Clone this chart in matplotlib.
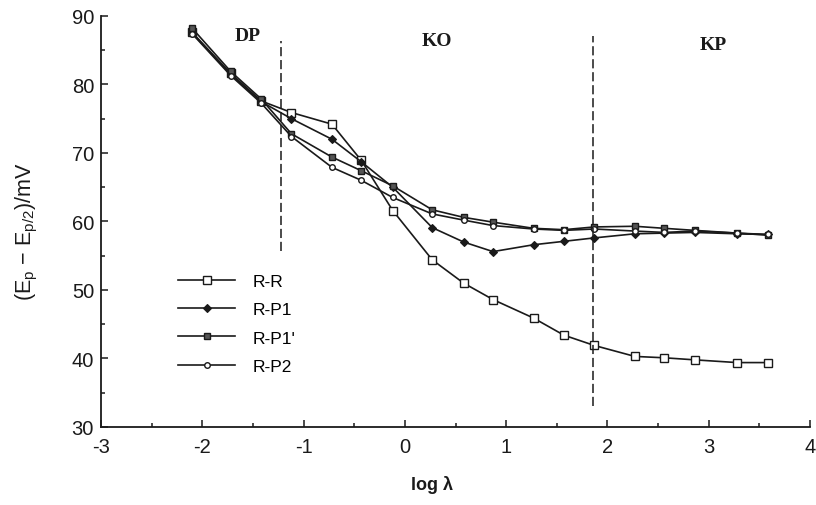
import numpy as np
import matplotlib.pyplot as plt
from matplotlib.ticker import MultipleLocator

plt.rcParams['font.family'] = ['Liberation Sans', 'DejaVu Sans']
plt.rcParams['mathtext.fontset'] = 'custom'
plt.rcParams['mathtext.rm'] = 'Liberation Sans'
plt.rcParams['mathtext.it'] = 'Liberation Sans:italic'
plt.rcParams['axes.unicode_minus'] = False

# log(lambda) grid shared by all four curves
log_lam = [-2.10, -1.72, -1.42, -1.12, -0.72, -0.43, -0.12, 0.27, 0.58,
           0.87, 1.27, 1.57, 1.87, 2.27, 2.56, 2.86, 3.28, 3.58]

# peak width Ep - Ep/2 in mV
rr = [87.6, 81.6, 77.6, 75.9, 74.2, 68.9, 61.6, 54.4, 51.0,
      48.6, 45.9, 43.4, 41.9, 40.3, 40.1, 39.8, 39.4, 39.4]
rp1 = [87.5, 81.5, 77.5, 75.0, 72.0, 68.7, 65.0, 59.1, 57.0,
       55.6, 56.6, 57.1, 57.6, 58.2, 58.3, 58.4, 58.2, 58.1]
rp1b = [88.2, 81.9, 77.9, 72.8, 69.4, 67.4, 65.2, 61.7, 60.6,
        59.9, 59.0, 58.8, 59.2, 59.3, 59.0, 58.7, 58.3, 58.0]
rp2 = [87.4, 81.3, 77.3, 72.4, 67.9, 66.0, 63.5, 61.1, 60.2,
       59.4, 58.9, 58.7, 58.9, 58.6, 58.4, 58.6, 58.3, 58.1]

# zone boundaries and zone names
bounds_x = [-1.22, 1.855]
bounds_y = [(55.7, 86.4), (33.1, 87.1)]
zones = ['DP', 'KO', 'KP']
zones_x = [-1.55, 0.32, 3.04]
zones_y = [87.2, 86.4, 85.8]

fig = plt.figure(figsize=(8.16, 5.06), dpi=100)
ax = fig.add_axes([0.1238, 0.1542, 0.8689, 0.8123])

lc = '#1a1a1a'
ax.plot(log_lam, rr, color=lc, lw=1.2, marker='s', ms=5.2, mfc='white', mec=lc, mew=1.0, label='R-R')
ax.plot(log_lam, rp1, color=lc, lw=1.2, marker='D', ms=3.6, mfc=lc, mec=lc, mew=0.8, label='R-P1')
ax.plot(log_lam, rp1b, color=lc, lw=1.2, marker='s', ms=5.0, mfc='#555555', mec=lc, mew=1.0, label="R-P1'")
ax.plot(log_lam, rp2, color=lc, lw=1.2, marker='o', ms=4.0, mfc='white', mec=lc, mew=1.0, label='R-P2')

for bx, (y0, y1) in zip(bounds_x, bounds_y):
    ax.plot([bx, bx], [y0, y1], color=lc, lw=1.1, linestyle=(0, (6, 2.5)))

for name, zx, zy in zip(zones, zones_x, zones_y):
    ax.text(zx, zy, name, ha='center', va='center', fontsize=14,
            fontweight='bold', family='Liberation Serif', color=lc)

ax.set_xlim(-3, 4)
ax.set_ylim(30, 90)
ax.xaxis.set_major_locator(MultipleLocator(1))
ax.xaxis.set_minor_locator(MultipleLocator(0.5))
ax.yaxis.set_major_locator(MultipleLocator(10))
ax.yaxis.set_minor_locator(MultipleLocator(5))
ax.tick_params(which='both', direction='in', colors=lc, labelsize=14.5)
ax.tick_params(which='major', length=5, width=1.1)
ax.tick_params(which='minor', length=3, width=1.1)
ax.tick_params(axis='x', pad=7)
ax.tick_params(axis='y', pad=5)
ax.spines['top'].set_visible(False)
ax.spines['right'].set_visible(False)
for s in ['left', 'bottom']:
    ax.spines[s].set_linewidth(1.3)
    ax.spines[s].set_color(lc)

ax.set_xlabel('log \u03bb', fontsize=13, fontweight='bold', color=lc)
ax.xaxis.set_label_coords(0.467, -0.118)
ax.set_ylabel(r'(E$_\mathrm{p}$ $-$ E$_\mathrm{p/2}$)/mV', fontsize=15.5, color=lc)
ax.yaxis.set_label_coords(-0.086, 0.477)

ax.legend(loc='upper left', bbox_to_anchor=(0.1086, 0.372), frameon=False,
          fontsize=12.5, handlelength=3.3, handletextpad=1.0, labelspacing=0.75,
          borderpad=0, borderaxespad=0)

fig.savefig('out.png', dpi=100)
